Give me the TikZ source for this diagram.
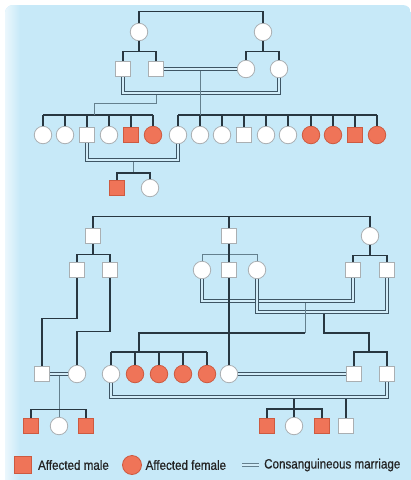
\documentclass[tikz,border=0pt]{standalone}
\usepackage{fontspec}
\newfontfamily\legfont[FakeStretch=0.86,FakeBold=0.6]{Liberation Sans}
\usetikzlibrary{positioning,calc}

\definecolor{bgblue}{RGB}{199,233,248}
\definecolor{affred}{RGB}{239,116,88}
\definecolor{reddark}{RGB}{205,90,64}
\definecolor{grayedge}{RGB}{170,175,178}
\definecolor{linedark}{RGB}{40,55,65}
\definecolor{linegray}{RGB}{100,128,142}
\definecolor{conline}{RGB}{62,85,100}
\definecolor{textdark}{RGB}{35,35,35}

\begin{document}
\begin{tikzpicture}[x=1pt,y=-1pt,
  male/.style={draw=grayedge,fill=white,minimum size=15.5pt,inner sep=0pt,line width=0.8pt},
  female/.style={circle,draw=grayedge,fill=white,minimum size=17.5pt,inner sep=0pt,line width=0.8pt},
  amale/.style={male,draw=reddark,fill=affred},
  afemale/.style={female,draw=reddark,fill=affred},
  sibline/.style={draw=linedark,line width=1.6pt},
  descent/.style={draw=linegray,line width=1pt},
  consang/.style={draw=conline,line width=1.1pt,double=bgblue!80!white,double distance=2.3pt},
  legtext/.style={font=\legfont\fontsize{13.5}{15}\selectfont,text=textdark,inner sep=2pt}]

\useasboundingbox (0,0) rectangle (411,480);

% background
\begin{scope}
\clip[rounded corners=8pt] (5,5) rectangle (411,490);
\fill[bgblue] (5,5) rectangle (411,490);
\shade[left color=white!65!bgblue,right color=bgblue] (5,5) rectangle (20,490);
\end{scope}

%%% upper pedigree
% generation I
\node[female] (gA) at (139,32) {};
\node[female] (gB) at (263,32) {};
\draw[sibline] (gA.north) -- ++(0,-11.5) -| (gB.north);

% generation II
\node[male] (mA) at (123,69) {};
\node[male] (mB) at (156,69) {};
\node[female] (wA) at (246,69) {};
\node[female] (wB) at (279,69) {};
\draw[sibline] (gA.south) -- ++(0,10.5) coordinate (s1);
\draw[sibline] (mA.north) |- (s1) -| (mB.north);
\draw[sibline] (gB.south) -- ++(0,10.5) coordinate (s2);
\draw[sibline] (wA.north) |- (s2) -| (wB.north);

% generation III
\foreach \n/\x/\s in {l1/43/female,l2/65/female,l3/87/male,l4/109/female,l5/131/amale,l6/153/afemale}
  \node[\s] (\n) at (\x,135) {};
\foreach \n/\x/\s in {r1/178/female,r2/200/female,r3/222/female,r4/244/male,r5/266/female,
  r6/288/female,r7/311/afemale,r8/333/afemale,r9/355/amale,r10/377/afemale}
  \node[\s] (\n) at (\x,135) {};
\coordinate (bl) at (94,115);
\coordinate (br) at (200,115);
\foreach \n in {l1,l2,l3,l4,l5,l6}
  \draw[sibline] (\n.north) -- (\n.north |- bl);
\draw[sibline] (l1.north |- bl) -- (l6.north |- bl);
\foreach \n in {r1,r2,r3,r4,r5,r6,r7,r8,r9,r10}
  \draw[sibline] (\n.north) -- (\n.north |- br);
\draw[sibline] (r1.north |- br) -- (r10.north |- br);

% consanguineous marriages
\draw[consang] (mB.east) -- (wA.west) coordinate[midway] (mp1);
\draw[consang] (mA.south) -- ++(0,16) coordinate (dl1) -| (wB.south);
\draw[descent] ($(mp1)+(0,1.8)$) -- (mp1 |- br);
\draw[descent] ($(mB |- dl1)+(0,1.8)$) -- ++(0,9) -| (bl);

% generation IV
\node[amale] (p1) at (117,188) {};
\node[female] (p2) at (150,188) {};
\coordinate (bp) at (133,173);
\draw[consang] (l3.south) -- ++(0,17) coordinate (dl2) -| (r1.south);
\draw[descent] ($(dl2 -| bp)+(0,1.8)$) -- (bp);
\draw[sibline] (p1.north) |- (bp) -| (p2.north);

%%% lower pedigree
\node[male] (a1) at (93,236) {};
\node[male] (a2) at (229,236) {};
\node[female] (a3) at (370,236) {};
\draw[sibline] (a1.north) -- ++(0,-11.25) coordinate (t1) -| (a3.north);
\draw[sibline] (a2.north) -- (a2.north |- t1);

\node[male] (b1) at (77,270) {};
\node[male] (b2) at (110,270) {};
\node[female] (c1) at (202,270) {};
\node[male] (c2) at (229,270) {};
\node[female] (c3) at (257,270) {};
\node[male] (d1) at (353,270) {};
\node[male] (d2) at (387,270) {};
\draw[sibline] (a1.south) -- ++(0,10.25) coordinate (s3);
\draw[sibline] (b1.north) |- (s3) -| (b2.north);
\draw[descent] (c1.north) -- ++(0,-6) -| (c3.north);
\draw[sibline] (a2.south) -- (c2.north);
\draw[sibline] (a3.south) -- ++(0,10.25) coordinate (s4);
\draw[sibline] (d1.north) |- (s4) -| (d2.north);

% row of y=374
\node[male] (g1) at (42,374) {};
\node[female] (g2) at (77,374) {};
\foreach \n/\x/\s in {f1/111/female,f2/135/afemale,f3/159/afemale,f4/183/afemale,f5/207/afemale,f6/229/female}
  \node[\s] (\n) at (\x,374) {};
\node[male] (h1) at (354,374) {};
\node[male] (h2) at (387,374) {};

\draw[sibline] (b1.south) -- ++(0,40.5) -| (g1.north);
\draw[sibline] (b2.south) -- ++(0,53.5) -| (g2.north);

\draw[consang] (c1.south) -- ++(0,22) coordinate (dl3) -| (d1.south);
\draw[consang] (c3.south) -- ++(0,33) coordinate (dl4) -| (d2.south);
\coordinate (j1) at (305,333);
\coordinate (j2) at (324,333);
\coordinate (bf) at (139,352);
\coordinate (bh) at (369,352);
\draw[descent] ($(dl3 -| j1)+(0,1.8)$) -- (j1);
\draw[sibline] (j1) -| (bf);
\draw[sibline] ($(dl4 -| j2)+(0,1.8)$) -- (j2) -| (bh);
\draw[sibline] (c2.south) -- (f6.north);
\foreach \n in {f1,f2,f3,f4,f5}
  \draw[sibline] (\n.north) -- (\n.north |- bf);
\draw[sibline] (f1.north |- bf) -- (f5.north |- bf);
\draw[sibline] (h1.north) |- (bh) -| (h2.north);

\draw[consang] (f6.east) -- (h1.west);
\draw[consang] (g1.east) -- (g2.west) coordinate[midway] (mp2);

% row of y=426
\node[amale] (k1) at (31,426) {};
\node[female] (k2) at (59,426) {};
\node[amale] (k3) at (86,426) {};
\node[amale] (n1) at (267,426) {};
\node[female] (n2) at (294,426) {};
\node[amale] (n3) at (322,426) {};
\node[male] (n4) at (346,426) {};
\coordinate (bn) at (294,409);

\draw[descent] ($(mp2)+(0,1.8)$) -- (k2.north);
\draw[sibline] (k1.north) -- ++(0,-8.5) -| (k3.north);

\draw[consang] (f1.south) -- ++(0,14) coordinate (dl5) -| (h2.south);
\draw[sibline] ($(dl5 -| bn)+(0,1.8)$) -- (n2.north);
\draw[sibline] (n1.north) |- (bn) -| (n3.north);
\draw[sibline] ($(dl5 -| n4)+(0,1.8)$) -- (n4.north);

%%% legend
\node[amale,minimum size=17pt] (lgm) at (23,465) {};
\node[legtext,right=4pt of lgm] (lgmt) {Affected male};
\node[afemale,minimum size=19pt] (lgf) at (132,465) {};
\node[legtext,right=1.5pt of lgf] (lgft) {Affected female};
\coordinate (lgA) at (242,465);
\coordinate (lgB) at (259,465);
\draw[consang,draw=linegray,double distance=1.8pt] (lgA) -- (lgB);
\node[legtext,right=3pt of lgB] (lgct) {Consanguineous marriage};

\end{tikzpicture}
\end{document}
